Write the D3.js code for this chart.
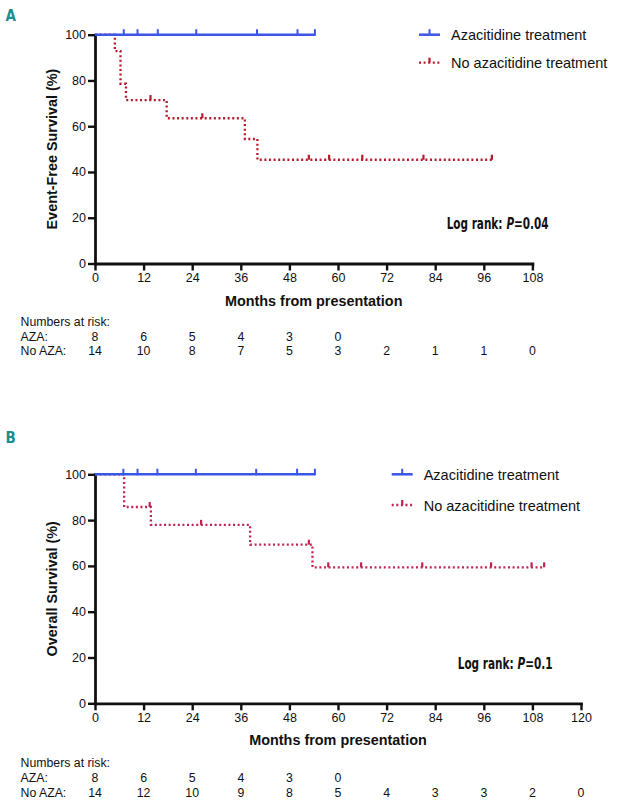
<!DOCTYPE html>
<html>
<head>
<meta charset="utf-8">
<script src="https://cdn.jsdelivr.net/npm/d3@7"></script>
<style>
  html, body { margin: 0; padding: 0; background: #fff; }
  svg { display: block; }
  text { font-family: Arial, "Liberation Sans", Helvetica, sans-serif; fill: #111; }
</style>
</head>
<body>
<svg id="chart" width="619" height="806"></svg>
<script>
// ---------- DATA ----------
// Panel A: event-free survival
const aXTicks = [0, 12, 24, 36, 48, 60, 72, 84, 96, 108];
const aYTicks = [0, 20, 40, 60, 80, 100];
const aAzaTimes = [0, 54.3];
const aAzaSurv = [100, 100];
const aAzaCensor = [7.1, 10.5, 15.5, 25.0, 40.0, 50.0, 54.3];
const aNoAzaTimes = [0, 4.9, 6.3, 7.65, 17.7, 37.0, 40.1, 98.0];
const aNoAzaSurv = [100, 92.86, 78.57, 71.43, 63.49, 54.42, 45.35, 45.35];
const aNoAzaCensor = [13.7, 26.5, 52.8, 57.8, 66.0, 81.1, 98.0];
const aRiskAza = ["8", "6", "5", "4", "3", "0"];
const aRiskNoAza = ["14", "10", "8", "7", "5", "3", "2", "1", "1", "0"];

// Panel B: overall survival
const bXTicks = [0, 12, 24, 36, 48, 60, 72, 84, 96, 108, 120];
const bYTicks = [0, 20, 40, 60, 80, 100];
const bAzaTimes = [0, 54.3];
const bAzaSurv = [100, 100];
const bAzaCensor = [7.0, 10.5, 15.4, 24.9, 39.8, 49.9, 54.3];
const bNoAzaTimes = [0, 7.2, 13.8, 38.3, 53.7, 110.9];
const bNoAzaSurv = [100, 85.71, 77.92, 69.26, 59.37, 59.37];
const bNoAzaCensor = [13.5, 26.2, 52.8, 57.6, 65.7, 80.8, 97.8, 107.8, 110.9];
const bRiskAza = ["8", "6", "5", "4", "3", "0"];
const bRiskNoAza = ["14", "12", "10", "9", "8", "5", "4", "3", "3", "2", "0"];

const legendLabels = ["Azacitidine treatment", "No azacitidine treatment"];

// ---------- STYLE ----------
const BLUE = "#3b55e6";
const FONT = "Arial, 'Liberation Sans', Helvetica, sans-serif";
const NARROW = "'Liberation Sans Narrow','Arial Narrow','DejaVu Sans Condensed',sans-serif";
const svg = d3.select("#chart");

function stepValue(times, surv, t) {
  let v = surv[0];
  for (let i = 0; i < times.length; i++) { if (times[i] <= t) v = surv[i]; }
  return v;
}

function panel(cfg) {
  const x = d3.scaleLinear().domain([0, cfg.xMax]).range([95, cfg.xRight]);
  const y = d3.scaleLinear().domain([0, 100]).range([cfg.yBottom, cfg.yTop]);
  const g = svg.append("g");

  // Panel letter
  g.append("text").attr("x", 5.5).attr("y", cfg.letterY)
    .style("font-family", NARROW)
    .style("font-weight", "bold").style("font-size", "15px").style("fill", "#1a8f8f")
    .text(cfg.letter);

  // Axes
  const xAxis = d3.axisBottom(x).tickValues(cfg.xTicks).tickSize(7).tickPadding(3).tickSizeOuter(0);
  const yAxis = d3.axisLeft(y).tickValues(cfg.yTicks).tickSize(7).tickPadding(2).tickSizeOuter(0);
  const gx = g.append("g").attr("transform", `translate(0,${cfg.yBottom})`).call(xAxis);
  const gy = g.append("g").attr("transform", `translate(95,0)`).call(yAxis);
  [gx, gy].forEach(a => {
    a.attr("font-family", null);
    a.select(".domain").attr("stroke", "#111").attr("stroke-width", 2.8).attr("stroke-linecap", "square");
    a.selectAll(".tick line").attr("stroke", "#111").attr("stroke-width", 2.4);
    a.selectAll(".tick text").style("font-size", "12.5px").style("fill", "#111")
      .style("font-family", FONT);
  });

  // Axis titles
  g.append("text").attr("x", (95 + cfg.xRight) / 2).attr("y", cfg.yBottom + 42)
    .attr("text-anchor", "middle").style("font-weight", "bold").style("font-size", "14.4px")
    .text("Months from presentation");
  g.append("text")
    .attr("transform", `translate(57,${(cfg.yTop + cfg.yBottom) / 2}) rotate(-90)`)
    .attr("text-anchor", "middle").style("font-weight", "bold").style("font-size", "14.4px")
    .text(cfg.yTitle);

  // Curves
  function kmPath(times, surv) {
    const pts = [];
    for (let i = 0; i < times.length; i++) {
      if (i > 0) pts.push([times[i], surv[i - 1]]);
      pts.push([times[i], surv[i]]);
    }
    return d3.line().x(d => x(d[0])).y(d => y(d[1]))(pts);
  }
  // red (no aza) first
  g.append("path").attr("d", kmPath(cfg.noTimes, cfg.noSurv))
    .attr("fill", "none").attr("stroke", cfg.red).attr("stroke-width", 2.3)
    .attr("stroke-dasharray", "2,2.6");
  g.selectAll(".cr").data(cfg.noCensor).enter().append("line")
    .attr("x1", d => x(d)).attr("x2", d => x(d))
    .attr("y1", d => y(stepValue(cfg.noTimes, cfg.noSurv, d)))
    .attr("y2", d => y(stepValue(cfg.noTimes, cfg.noSurv, d)) - 5)
    .attr("stroke", cfg.red).attr("stroke-width", 2.2);
  // blue (aza)
  g.append("path").attr("d", kmPath(cfg.azaTimes, cfg.azaSurv))
    .attr("fill", "none").attr("stroke", BLUE).attr("stroke-width", 2.5);
  g.selectAll(".cb").data(cfg.azaCensor).enter().append("line")
    .attr("x1", d => x(d)).attr("x2", d => x(d))
    .attr("y1", d => y(stepValue(cfg.azaTimes, cfg.azaSurv, d)) + 1)
    .attr("y2", d => y(stepValue(cfg.azaTimes, cfg.azaSurv, d)) - 5.5)
    .attr("stroke", BLUE).attr("stroke-width", 2);

  // Legend
  const lx = cfg.legX;
  const l1 = cfg.legY1, l2 = cfg.legY2;
  g.append("line").attr("x1", lx).attr("x2", lx + 21).attr("y1", l1).attr("y2", l1)
    .attr("stroke", BLUE).attr("stroke-width", 2.5);
  g.append("line").attr("x1", lx + 10.5).attr("x2", lx + 10.5).attr("y1", l1).attr("y2", l1 - 5.5)
    .attr("stroke", BLUE).attr("stroke-width", 2);
  g.append("line").attr("x1", lx).attr("x2", lx + 21).attr("y1", l2).attr("y2", l2)
    .attr("stroke", cfg.red).attr("stroke-width", 2.3).attr("stroke-dasharray", "2,2.6");
  g.append("line").attr("x1", lx + 10.5).attr("x2", lx + 10.5).attr("y1", l2).attr("y2", l2 - 5)
    .attr("stroke", cfg.red).attr("stroke-width", 2.2);
  g.append("text").attr("x", lx + 32).attr("y", l1 + 5.5).style("font-size", "14.5px").text(legendLabels[0]);
  g.append("text").attr("x", lx + 32).attr("y", l2 + 5.5).style("font-size", "14.5px").text(legendLabels[1]);

  // Log rank: three pieces side by side, squeezed horizontally to a condensed look
  const parts = [
    { t: "Log rank:", it: false, gap: 5 },
    { t: "P", it: true, gap: 0 },
    { t: "=" + cfg.pval, it: false, gap: 0 }
  ];
  const lg = g.append("g");
  let cx = 0;
  parts.forEach(p => {
    const tnode = lg.append("text").attr("x", cx).attr("y", 0)
      .style("font-family", NARROW).style("font-weight", "bold").style("font-size", "15px")
      .style("font-style", p.it ? "italic" : "normal").text(p.t);
    cx += tnode.node().getComputedTextLength() + p.gap;
  });
  const sx = cfg.lrLen / cx;
  lg.attr("transform", `translate(${cfg.lrX},${cfg.lrY}) scale(${sx},1)`);

  // Numbers at risk
  g.append("text").attr("x", 20.5).attr("y", cfg.riskY0).style("font-size", "12.3px").text("Numbers at risk:");
  g.append("text").attr("x", 20.5).attr("y", cfg.riskY1).style("font-size", "12.3px").text("AZA:");
  g.append("text").attr("x", 20.5).attr("y", cfg.riskY2).style("font-size", "12.3px").text("No AZA:");
  g.selectAll(".ra").data(cfg.riskAza).enter().append("text")
    .attr("x", (d, i) => x(cfg.xTicks[i])).attr("y", cfg.riskY1)
    .attr("text-anchor", "middle").style("font-size", "12.3px").text(d => d);
  g.selectAll(".rn").data(cfg.riskNo).enter().append("text")
    .attr("x", (d, i) => x(cfg.xTicks[i])).attr("y", cfg.riskY2)
    .attr("text-anchor", "middle").style("font-size", "12.3px").text(d => d);
}

panel({
  letter: "A", letterY: 20.5, xMax: 108, xRight: 532.4, yTop: 34.7, yBottom: 263.5,
  xTicks: aXTicks, yTicks: aYTicks, yTitle: "Event-Free Survival (%)",
  azaTimes: aAzaTimes, azaSurv: aAzaSurv, azaCensor: aAzaCensor,
  noTimes: aNoAzaTimes, noSurv: aNoAzaSurv, noCensor: aNoAzaCensor,
  red: "#b41c2c", legX: 419, legY1: 34.7, legY2: 62.7,
  lrX: 446.7, lrY: 229, lrLen: 102, pval: "0.04",
  riskY0: 325.5, riskY1: 340.5, riskY2: 355,
  riskAza: aRiskAza, riskNo: aRiskNoAza
});

panel({
  letter: "B", letterY: 443, xMax: 120, xRight: 581, yTop: 474.3, yBottom: 703.3,
  xTicks: bXTicks, yTicks: bYTicks, yTitle: "Overall Survival (%)",
  azaTimes: bAzaTimes, azaSurv: bAzaSurv, azaCensor: bAzaCensor,
  noTimes: bNoAzaTimes, noSurv: bNoAzaSurv, noCensor: bNoAzaCensor,
  red: "#c02350", legX: 391.7, legY1: 474.3, legY2: 505,
  lrX: 457.7, lrY: 669, lrLen: 95, pval: "0.1",
  riskY0: 766.5, riskY1: 781.5, riskY2: 796.5,
  riskAza: bRiskAza, riskNo: bRiskNoAza
});
</script>
</body>
</html>
